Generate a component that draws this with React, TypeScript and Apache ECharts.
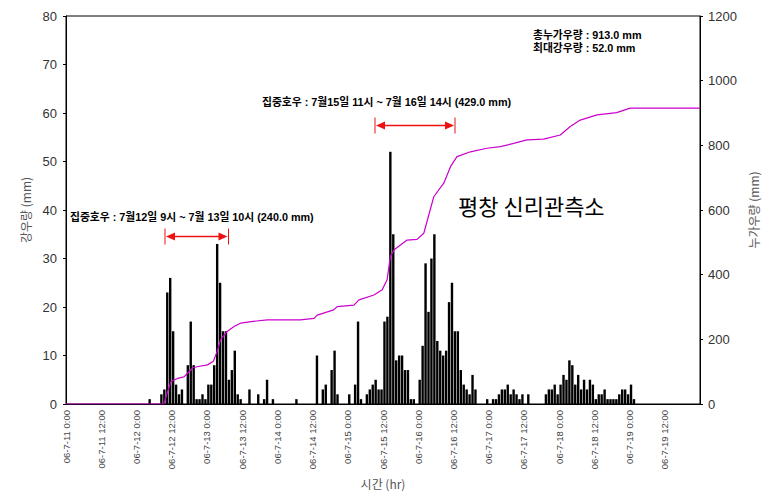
import React, { useEffect, useRef } from "react";
import * as echarts from "echarts";

// x tick labels (every 12 hours from 06-7-11 0:00)
const xTickLabels = [
  "06-7-11 0:00", "06-7-11 12:00", "06-7-12 0:00", "06-7-12 12:00",
  "06-7-13 0:00", "06-7-13 12:00", "06-7-14 0:00", "06-7-14 12:00",
  "06-7-15 0:00", "06-7-15 12:00", "06-7-16 0:00", "06-7-16 12:00",
  "06-7-17 0:00", "06-7-17 12:00", "06-7-18 0:00", "06-7-18 12:00",
  "06-7-19 0:00", "06-7-19 12:00",
];

// hourly rainfall: hour offset from 06-7-11 0:00 and rainfall (mm)
const rainHour = [
  28, 32, 33, 34, 35, 36, 37, 38, 39, 41, 42, 43, 44, 45, 46, 47, 48, 49, 50,
  51, 52, 53, 54, 55, 56, 57, 58, 59, 62, 65, 67, 68, 70, 78, 85, 87, 88, 90,
  91, 92, 96, 98, 99, 100, 102, 103, 104, 105, 106, 107, 108, 109, 110, 111,
  112, 113, 114, 115, 116, 117, 118, 120, 121, 122, 123, 124, 125, 126, 127,
  128, 129, 130, 131, 132, 133, 134, 135, 136, 137, 138, 139, 143, 145, 146,
  147, 148, 149, 150, 151, 152, 153, 154, 155, 157, 163, 164, 165, 166, 167,
  168, 169, 170, 171, 172, 173, 174, 175, 176, 177, 178, 179, 180, 181, 182,
  183, 184, 185, 186, 187, 188, 189, 190, 191, 192, 193,
];
const rainMm = [
  1, 2, 3, 23, 26, 15, 4, 2, 3, 8, 17, 8, 1, 1, 2, 1, 4, 4, 8,
  33, 25, 15, 15, 5, 7, 11, 2, 1, 3, 2, 1, 5, 1, 1, 10, 3, 4, 7,
  11, 2, 2, 4, 17, 1, 2, 3, 4, 5, 3, 3, 17, 18, 52, 35,
  9, 10, 10, 7, 7, 1, 1, 5, 12, 29, 19, 30, 35, 13, 11,
  10, 11, 21, 25, 15, 15, 7, 4, 3, 2, 6, 3, 1, 1, 1,
  2, 3, 3, 4, 2, 3, 2, 1, 2, 2, 2, 3, 3, 4, 2,
  4, 6, 5, 9, 8, 4, 6, 3, 5, 3, 5, 4, 1, 2, 2,
  3, 1, 1, 1, 1, 2, 3, 3, 2, 4, 1,
];

// cumulative rainfall: hour and mm
const cumHour = [
  0, 33.3, 34.6, 35.8, 38, 40.2, 41.4, 43.3, 45, 48.2, 50.2, 51.6, 52.7, 55,
  57.5, 59.5, 63, 68.6, 79.9, 84.5, 85.6, 91.2, 92.4, 98.1, 99.8, 104.9,
  107.7, 109.4, 110.5, 111.7, 116.2, 119.6, 121.9, 125.3, 128.7, 131, 133.2,
  137.8, 143.4, 148, 152.5, 157, 162.7, 168.4, 171.8, 175.2, 180.9, 187.6,
  192.2, 216,
];
const cumMm = [
  0, 0, 38, 70, 79, 84, 95, 112, 116, 121, 132, 165, 200, 225,
  241, 250, 255, 260, 260, 265, 275, 291, 301, 306, 322, 337,
  353, 384, 456, 476, 507, 509, 528, 641, 683, 734, 765,
  780, 791, 796, 806, 817, 819, 832, 858, 878, 894, 901,
  915, 915,
];

const summaryLines = ["총누가우량 : 913.0 mm", "최대강우량 : 52.0 mm"];
const stormLabels = [
  "집중호우 : 7월15일 11시 ~ 7월 16일 14시 (429.0 mm)",
  "집중호우 : 7월12일 9시 ~ 7월 13일 10시 (240.0 mm)",
];
const stationName = "평창 신리관측소";

const KR = "'Noto Sans CJK KR', sans-serif";
const MIX = "'Liberation Sans', 'Noto Sans CJK KR', sans-serif";
const NUM = "'Liberation Sans', Arial, sans-serif";

function arrow(x1: number, x2: number, y: number, h: number) {
  const c = "#EE1111";
  return [
    { type: "line", shape: { x1: x1 + 4, y1: y, x2: x2 - 4, y2: y }, style: { stroke: c, lineWidth: 1.6 } },
    { type: "line", shape: { x1, y1: y - h, x2: x1, y2: y + h }, style: { stroke: c, lineWidth: 1 } },
    { type: "line", shape: { x1: x2, y1: y - h, x2: x2, y2: y + h }, style: { stroke: c, lineWidth: 1 } },
    { type: "polygon", shape: { points: [[x1 + 1, y], [x1 + 10, y - 4], [x1 + 10, y + 4]] }, style: { fill: c } },
    { type: "polygon", shape: { points: [[x2 - 1, y], [x2 - 10, y - 4], [x2 - 10, y + 4]] }, style: { fill: c } },
  ];
}

function txt(text: string, x: number, y: number, size: number, weight: string, family: string) {
  return {
    type: "text",
    x,
    y,
    style: {
      text,
      fontSize: size,
      fontWeight: weight,
      fontFamily: family,
      fill: "#000",
      lineHeight: Math.round(size * 1.15),
      textAlign: "left",
      textVerticalAlign: "middle",
    },
  };
}

export default function App() {
  const ref = useRef<HTMLDivElement>(null);
  useEffect(() => {
    document.body.style.margin = "0";
    const chart = echarts.init(ref.current!, null, { renderer: "svg" });
    const option: any = {
      animation: false,
      grid: {
        left: 66, right: 77, top: 16, bottom: 95,
        show: true, borderColor: "#000", borderWidth: 1,
      },
      xAxis: {
        type: "value",
        min: 0,
        max: 216,
        interval: 12,
        name: "시간 (hr)",
        nameLocation: "middle",
        nameGap: 63,
        nameTextStyle: { fontFamily: KR, fontSize: 12, color: "#555" },
        axisLine: { show: true, lineStyle: { color: "#000", width: 1 } },
        axisTick: { show: false },
        splitLine: { show: false },
        axisLabel: {
          rotate: 90,
          fontSize: 9.5,
          color: "#444",
          fontFamily: NUM,
          margin: 6,
          showMaxLabel: false,
          formatter: (v: number) => xTickLabels[Math.round(v / 12)] ?? "",
        },
      },
      yAxis: [
        {
          type: "value",
          min: 0,
          max: 80,
          interval: 10,
          name: "강우량 (mm)",
          nameLocation: "middle",
          nameRotate: 90,
          nameGap: 34,
          nameTextStyle: { fontFamily: KR, fontSize: 12, color: "#555" },
          axisLine: { show: true, lineStyle: { color: "#000" } },
          axisTick: { show: true, length: 3, lineStyle: { color: "#000" } },
          splitLine: { show: false },
          axisLabel: { fontSize: 13, color: "#333", fontFamily: NUM, margin: 9 },
        },
        {
          type: "value",
          position: "right",
          min: 0,
          max: 1200,
          interval: 200,
          name: "누가우량 (mm)",
          nameLocation: "middle",
          nameRotate: 90,
          nameGap: 42,
          nameTextStyle: { fontFamily: KR, fontSize: 12, color: "#555" },
          axisLine: { show: true, lineStyle: { color: "#000" } },
          axisTick: { show: true, length: 3, lineStyle: { color: "#000" } },
          splitLine: { show: false },
          axisLabel: {
            fontSize: 13, color: "#333", fontFamily: NUM, margin: 8,
            formatter: (v: number) => String(v),
          },
        },
      ],
      series: [
        {
          type: "bar",
          yAxisIndex: 0,
          barWidth: 2.4,
          itemStyle: { color: "#000" },
          data: rainHour.map((h, i) => [h + 0.5, rainMm[i]]),
          z: 2,
        },
        {
          type: "line",
          yAxisIndex: 1,
          showSymbol: false,
          symbol: "none",
          lineStyle: { color: "#CC00CC", width: 1.2 },
          data: cumHour.map((h, i) => [h, cumMm[i]]),
          z: 3,
        },
      ],
      graphic: [
        txt(summaryLines[0], 533, 34.5, 10.8, "bold", MIX),
        txt(summaryLines[1], 533, 48, 10.8, "bold", MIX),
        txt(stormLabels[0], 262, 102, 10.8, "bold", MIX),
        txt(stormLabels[1], 70, 217, 10.8, "bold", MIX),
        txt(stationName, 458, 205, 22, "normal", KR),
        ...arrow(375, 455, 125.5, 8),
        ...arrow(165, 228.5, 236.5, 8),
      ],
    };
    chart.setOption(option);
    return () => chart.dispose();
  }, []);
  return <div ref={ref} style={{ width: 777, height: 499 }} />;
}
